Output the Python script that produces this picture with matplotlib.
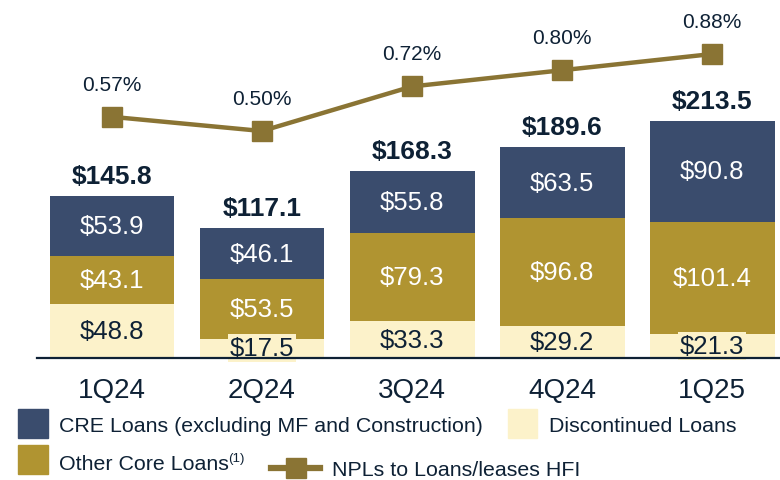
import matplotlib
matplotlib.use("Agg")
import matplotlib.pyplot as plt
from matplotlib.patches import Rectangle
from matplotlib.lines import Line2D
import numpy as np

plt.rcParams['font.family'] = ['Liberation Sans', 'DejaVu Sans']

categories = ["1Q24", "2Q24", "3Q24", "4Q24", "1Q25"]
discontinued = [48.8, 17.5, 33.3, 29.2, 21.3]
other_core = [43.1, 53.5, 79.3, 96.8, 101.4]
cre = [53.9, 46.1, 55.8, 63.5, 90.8]
totals = [145.8, 117.1, 168.3, 189.6, 213.5]
npl_ratio = [0.57, 0.50, 0.72, 0.80, 0.88]

NAVY = "#3A4C6D"
GOLD = "#B09431"
CREAM = "#FCF2CA"
LINE = "#8A7434"
TXT = "#0E2135"

W, H = 780, 481
fig = plt.figure(figsize=(W / 100, H / 100), dpi=100)
ax = fig.add_axes([37 / W, (H - 359) / H, (W - 37) / W, 359 / H])

x = np.arange(len(categories))
bw = 0.833
ax.bar(x, discontinued, bw, color=CREAM, zorder=2)
ax.bar(x, other_core, bw, bottom=discontinued, color=GOLD, zorder=2)
bottom3 = np.array(discontinued) + np.array(other_core)
ax.bar(x, cre, bw, bottom=bottom3, color=NAVY, zorder=2)

ax.set_xlim(-0.5, 4.453)
ax.set_ylim(0, 323.1)
for s in ["top", "right", "left"]:
    ax.spines[s].set_visible(False)
ax.spines["bottom"].set_color(TXT)
ax.spines["bottom"].set_linewidth(1.6)
ax.spines["bottom"].set_zorder(5)
ax.set_yticks([])
ax.set_xticks(x)
ax.set_xticklabels(categories, fontsize=20, color=TXT)
ax.tick_params(axis="x", length=0, pad=14)

for i in range(len(categories)):
    d, o, c = discontinued[i], other_core[i], cre[i]
    ax.text(x[i], d / 2, f"${d:.1f}", ha="center", va="center", fontsize=18.5,
            color=TXT, zorder=4,
            bbox=dict(boxstyle="square,pad=0.08", fc=CREAM, ec="none"))
    ax.text(x[i], d + o / 2, f"${o:.1f}", ha="center", va="center",
            fontsize=18.5, color="white", zorder=4)
    ax.text(x[i], d + o + c / 2, f"${c:.1f}", ha="center", va="center",
            fontsize=18.5, color="white", zorder=4)
    ax.annotate(f"${totals[i]:.1f}", (x[i], totals[i]), xytext=(0, 14.5),
                textcoords="offset points", ha="center", va="center",
                fontsize=19, fontweight="bold", color=TXT, zorder=4)

ax2 = ax.twinx()
ax2.set_ylim(-0.620, 1.1515)
ax2.axis("off")
ax2.plot(x, npl_ratio, color=LINE, lw=3.2, marker="s", markersize=14.5,
         zorder=3)
for i, v in enumerate(npl_ratio):
    ax2.annotate(f"{v:.2f}%", (x[i], v), xytext=(0, 23.5),
                 textcoords="offset points", ha="center", va="center",
                 fontsize=15, color=TXT)

# legend
def fx(px):
    return px / W

def fy(py):
    return 1 - py / H

LFS = 15.4
fig.patches.append(Rectangle((fx(18), fy(439)), fx(30), 29 / H, color=NAVY,
                             transform=fig.transFigure, figure=fig))
fig.text(fx(59), fy(427), "CRE Loans (excluding MF and Construction)",
         fontsize=LFS, color=TXT, va="center", ha="left")
fig.patches.append(Rectangle((fx(508), fy(439)), fx(29), 29 / H, color=CREAM,
                             transform=fig.transFigure, figure=fig))
fig.text(fx(549), fy(427), "Discontinued Loans", fontsize=LFS, color=TXT,
         va="center", ha="left")
fig.patches.append(Rectangle((fx(18), fy(475)), fx(30), 29 / H, color=GOLD,
                             transform=fig.transFigure, figure=fig))
fig.text(fx(59), fy(464), "Other Core Loans", fontsize=LFS, color=TXT,
         va="center", ha="left")
fig.text(fx(228), fy(459), "(1)", fontsize=9.5, color=TXT,
         va="center", ha="left")
fig.lines.append(Line2D([fx(271), fx(320)], [fy(469), fy(469)], color=LINE,
                        lw=4.5, transform=fig.transFigure, figure=fig))
fig.lines.append(Line2D([fx(295.5)], [fy(469)], color=LINE, marker="s",
                        markersize=15, lw=0,
                        transform=fig.transFigure, figure=fig))
fig.text(fx(332), fy(471), "NPLs to Loans/leases HFI", fontsize=LFS,
         color=TXT, va="center", ha="left")

fig.savefig("out.png", dpi=100)
